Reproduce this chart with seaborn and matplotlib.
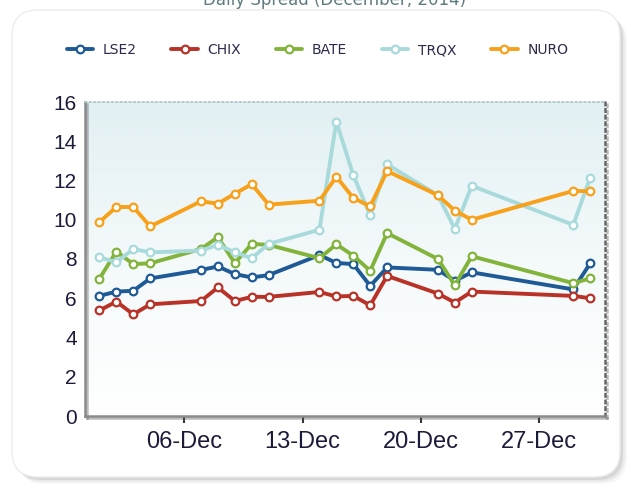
import numpy as np
import pandas as pd
import matplotlib
matplotlib.use("Agg")
import matplotlib.pyplot as plt
import matplotlib.dates as mdates
import matplotlib.patheffects as pe
from matplotlib.patches import FancyBboxPatch
from matplotlib.colors import LinearSegmentedColormap
import seaborn as sns

# trading days shown on the chart
dates = ["2014-12-01", "2014-12-02", "2014-12-03", "2014-12-04", "2014-12-07",
         "2014-12-08", "2014-12-09", "2014-12-10", "2014-12-11", "2014-12-14",
         "2014-12-15", "2014-12-16", "2014-12-17", "2014-12-18", "2014-12-21",
         "2014-12-22", "2014-12-23", "2014-12-29", "2014-12-30"]

lse2 = [6.12, 6.34, 6.38, 7.01, 7.44, 7.62, 7.23, 7.06, 7.18, 8.20,
        7.80, 7.74, 6.63, 7.57, 7.45, 6.89, 7.32, 6.45, 7.78]
chix = [5.38, 5.83, 5.18, 5.69, 5.86, 6.55, 5.86, 6.07, 6.07, 6.32,
        6.09, 6.12, 5.64, 7.14, 6.24, 5.78, 6.34, 6.12, 6.00]
bate = [7.00, 8.38, 7.74, 7.78, 8.51, 9.11, 7.79, 8.77, 8.72, 8.04,
        8.75, 8.17, 7.40, 9.32, 8.00, 6.67, 8.14, 6.77, 7.01]
trqx = [8.09, 7.83, 8.51, 8.34, 8.43, 8.72, 8.34, 8.04, 8.77, 9.49,
        15.00, 12.27, 10.22, 12.82, 11.25, 9.54, 11.73, 9.74, 12.14]
nuro = [9.88, 10.65, 10.65, 9.66, 10.94, 10.82, 11.33, 11.81, 10.77, 10.97,
        12.19, 11.11, 10.68, 12.48, 11.25, 10.46, 10.00, 11.47, 11.45]

names = ["LSE2", "CHIX", "BATE", "TRQX", "NURO"]
colors = ["#1d5a96", "#b83227", "#82b43c", "#a8dadc", "#f7a11a"]

df = pd.DataFrame({"date": pd.to_datetime(dates), "LSE2": lse2, "CHIX": chix,
                   "BATE": bate, "TRQX": trqx, "NURO": nuro})

sns.set_style("white")
plt.rcParams["font.family"] = ["Liberation Sans", "DejaVu Sans"]

W, H = 631, 491
fig = plt.figure(figsize=(W / 100, H / 100), dpi=100)
fig.patch.set_facecolor("white")

# rounded card with a soft shadow (pixel coords)
for off, a in [(7, 0.06), (5, 0.10), (3, 0.16)]:
    fig.patches.append(FancyBboxPatch((12 + off, 14 - off), 608, 467,
                                      boxstyle="round,pad=0,rounding_size=26",
                                      transform=None, fc="#777777", ec="none",
                                      alpha=a, zorder=0))
fig.patches.append(FancyBboxPatch((12, 14), 608, 467,
                                  boxstyle="round,pad=0,rounding_size=26",
                                  transform=None, fc="white", ec="#ececec",
                                  lw=1, zorder=0))

rect = [85 / W, (H - 416) / H, (605 - 85) / W, (416 - 102) / H]

# gradient plot background
bg = fig.add_axes(rect, zorder=1)
grad = LinearSegmentedColormap.from_list("bg", ["#ffffff", "#f4f9fa", "#e2f0f3"])
bg.imshow(np.linspace(0, 1, 256).reshape(-1, 1), cmap=grad, origin="lower",
          extent=[0, 1, 0, 1], aspect="auto")
bg.axis("off")

ax = fig.add_axes(rect, zorder=2)
ax.patch.set_alpha(0)

for name, color in zip(names, colors):
    sns.lineplot(data=df, x="date", y=name, ax=ax, color=color, lw=2.8,
                 marker="o", markersize=5.5, markerfacecolor="white",
                 markeredgecolor=color, markeredgewidth=1.6, label=name)

ax.set_ylim(0, 16)
ax.set_yticks(range(0, 17, 2))
ax.set_xlim(pd.Timestamp("2014-11-30 03:30"), pd.Timestamp("2014-12-30 21:00"))
ax.xaxis.set_major_locator(mdates.DayLocator(bymonthday=[6, 13, 20, 27]))
ax.xaxis.set_major_formatter(mdates.DateFormatter("%d-%b"))
ax.set_xlabel("")
ax.set_ylabel("")

ax.tick_params(axis="x", length=5, width=1.5, color="#333333", pad=6,
               labelsize=17, labelcolor="#1b1b3a", direction="out")
ax.tick_params(axis="y", length=0, pad=6, labelsize=15, labelcolor="#1b1b3a")
ax.xaxis.set_ticks_position("bottom")

shadow = [pe.SimpleLineShadow(offset=(1.5, -1.5), shadow_color="#555555", alpha=0.4),
          pe.Normal()]
for s in ["left", "bottom"]:
    ax.spines[s].set_color("#8a8a8a")
    ax.spines[s].set_linewidth(1.8)
    ax.spines[s].set_path_effects(shadow)
ax.spines["top"].set_color("#a9c6ca")
ax.spines["top"].set_linestyle(":")
ax.spines["top"].set_linewidth(1.2)
ax.spines["right"].set_color("#666666")
ax.spines["right"].set_linestyle(":")
ax.spines["right"].set_linewidth(1.8)
ax.spines["right"].set_path_effects(shadow)

handles, labels = ax.get_legend_handles_labels()
ax.get_legend().remove()
leg = fig.legend(handles, labels, loc="center left",
                 bbox_to_anchor=(54 / W, 1 - 50 / H), ncol=5, frameon=False,
                 handlelength=1.9, handletextpad=0.7, columnspacing=2.5,
                 prop={"family": "DejaVu Sans", "size": 10})
for t in leg.get_texts():
    t.set_color("#2a2a4a")

# title sits at the very top edge, as in the original screenshot
fig.text(335 / W, 1.0, "Daily Spread (December, 2014)", ha="center", va="center",
         color="#5f7b80", fontsize=12, family="DejaVu Sans")

fig.savefig("out.png", dpi=100)
